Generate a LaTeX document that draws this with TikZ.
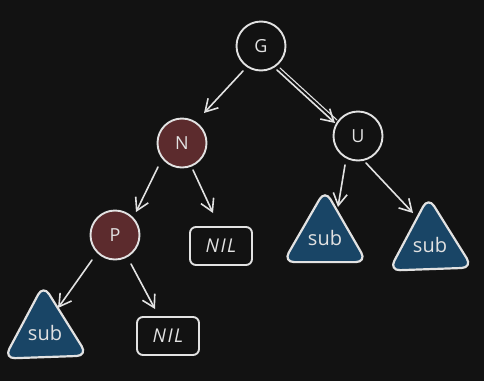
\documentclass[tikz,border=0pt]{standalone}
\usepackage{fontspec}
\setmainfont{Open Sans}
\usetikzlibrary{arrows.meta,calc,shapes.geometric}
\definecolor{bg}{HTML}{121212}
\definecolor{fg}{HTML}{E2E2E2}
\definecolor{redfill}{HTML}{5C2B2D}
\definecolor{bluefill}{HTML}{194566}
\begin{document}
\begin{tikzpicture}[x=1pt,y=-1pt,
  circ/.style={circle, draw=fg, text=fg, line width=1.9pt, minimum size=49pt, inner sep=0pt, font=\fontsize{18}{18}\selectfont},
  redcirc/.style={circ, fill=redfill},
  nilbox/.style={rectangle, rounded corners=6pt, draw=fg, text=fg, line width=1.9pt, minimum width=62pt, minimum height=38pt, inner sep=0pt, font=\fontsize{19}{19}\selectfont\itshape\addfontfeature{LetterSpace=8}},
  subtri/.style={regular polygon, regular polygon sides=3, draw=fg, fill=bluefill, text=fg, line width=2.2pt, rounded corners=11pt, minimum size=89pt, inner sep=0pt, font=\fontsize{20}{20}\selectfont},
  arr/.style={draw=fg, line width=1.6pt, line cap=round, -{Straight Barb[length=12pt,width=14pt,line width=1.6pt]}}
]
\fill[bg] (0,0) rectangle (484,381);
\useasboundingbox (0,0) rectangle (484,381);

\node[circ] (G) at (261,46) {G};
\node[redcirc] (N) at (182,143) {N};
\node[circ] (U) at (358,136) {U};
\node[redcirc] (P) at (115,235) {P};
\node[nilbox] (NIL1) at (221,246) {NIL};
\node[nilbox] (NIL2) at (168,336) {NIL};
\node[subtri, shape border rotate=2] (S1) at (45,333) {sub};
\node[subtri] (S2) at (325,238) {sub};
\node[subtri, shape border rotate=2] (S3) at (430,245) {sub};

\draw[arr] ($(G)+(-18,25)$) -- ($(N)+(22,-30)$);
\draw[arr] ($(G)+(16,24)$) -- ($(U)+(-23,-13)$);
\draw[draw=fg, line width=1.1pt, line cap=round] ($(G)+(19,22)$) -- ($(U)+(-21,-16)$);
\draw[arr] ($(N)+(-24,24)$) -- ($(P)+(21,-23)$);
\draw[arr] ($(N)+(11,27)$) -- ($(NIL1)+(-8,-33)$);
\draw[arr] ($(U)+(-13,29)$) -- ($(S2)+(13,-31)$);
\draw[arr] ($(U)+(8,27)$) -- ($(S3)+(-17,-32)$);
\draw[arr] ($(P)+(-23,25)$) -- ($(S1)+(13,-25)$);
\draw[arr] ($(P)+(16,29)$) -- ($(NIL2)+(-13,-27)$);
\end{tikzpicture}
\end{document}
